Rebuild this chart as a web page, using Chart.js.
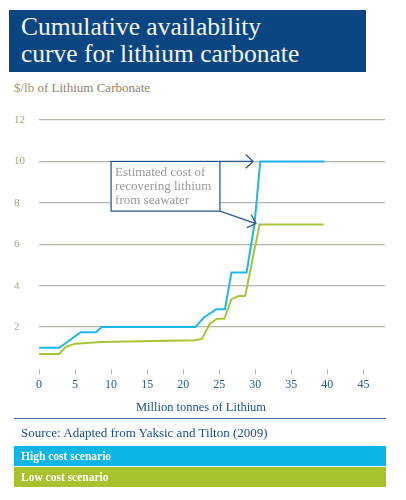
<!DOCTYPE html>
<html>
<head>
<meta charset="utf-8">
<script src="https://cdn.jsdelivr.net/npm/chart.js@4"></script>
<style>
  html, body { margin: 0; padding: 0; background: #fff; }
  body { width: 406px; height: 500px; position: relative; overflow: hidden; font-family: "Liberation Serif", serif; }
  #title { position: absolute; left: 9px; top: 10px; width: 357px; height: 62px; background: #0b4683; color: #f4f6f8; font-size: 25.5px; line-height: 27px; box-sizing: border-box; padding: 3px 0 0 12px; }
  #title div { white-space: nowrap; }
  #unit { position: absolute; left: 14px; top: 80px; font-size: 13px; color: #a49278; white-space: nowrap; }
  #unit b { font-weight: normal; color: #94826a; }
  #wrap { position: absolute; left: 0; top: 100px; width: 406px; height: 318px; }
  #xtitle { position: absolute; left: 0; width: 402px; top: 400px; text-align: center; font-size: 12.5px; color: #1f4e8c; white-space: nowrap; }
  #rule { position: absolute; left: 14px; top: 418px; width: 372px; height: 0; border-top: 1.5px solid #3d6a9f; }
  #source { position: absolute; left: 21px; top: 425px; font-size: 13px; color: #1f4e8c; white-space: nowrap; }
  .leg { position: absolute; left: 14px; width: 372px; height: 20px; color: #fff; font-weight: bold; font-size: 11.5px; line-height: 20px; box-sizing: border-box; padding-left: 7px; white-space: nowrap; }
  #legHigh { top: 446px; background: #0bb5e6; }
  #legLow { top: 467px; background: #a6c32e; }
</style>
</head>
<body>
<div id="title"><div>Cumulative availability</div><div>curve for lithium carbonate</div></div>
<div id="unit">$/lb <b>of Lithium Carbonate</b></div>
<div id="wrap"><canvas id="c"></canvas></div>
<div id="xtitle">Million tonnes of Lithium</div>
<div id="rule"></div>
<div id="source">Source: Adapted from Yaksic and Tilton (2009)</div>
<div class="leg" id="legHigh">High cost scenario</div>
<div class="leg" id="legLow">Low cost scenario</div>
<script>
// ---- data ----
const xTickLabels = [0, 5, 10, 15, 20, 25, 30, 35, 40, 45];
const yTickLabels = [2, 4, 6, 8, 10, 12];
const highX = [0, 2.8, 5.8, 7.9, 8.7, 21.7, 22.8, 24.6, 25.8, 26.7, 28.8, 29.9, 30.7, 39.6];
const highY = [1.0, 1.0, 1.75, 1.75, 2.0, 2.0, 2.44, 2.86, 2.86, 4.64, 4.64, 7.0, 10.0, 10.0];
const lowX = [0, 2.8, 3.7, 5.0, 8.7, 21.7, 22.6, 23.7, 24.7, 25.7, 26.7, 27.7, 28.6, 30.6, 39.5];
const lowY = [0.7, 0.7, 1.04, 1.2, 1.28, 1.36, 1.44, 2.15, 2.4, 2.4, 3.35, 3.5, 3.5, 6.95, 6.95];
const seriesNames = ["High cost scenario", "Low cost scenario"];
const noteLines = ["Estimated cost of", "recovering lithium", "from seawater"];
// annotation anchors in data units
const noteBox = { x0: 10.0, x1: 25.1, y0: 7.6, y1: 10.0 };
const arrowTips = [ { fromX: 25.1, fromY: 10.0, x: 29.7, y: 10.0 }, { fromX: 25.1, fromY: 7.6, x: 30.1, y: 7.0 } ];

const toPts = (xs, ys) => xs.map((x, i) => ({ x: x, y: ys[i] }));

const notePlugin = {
  id: 'note',
  afterDatasetsDraw(chart) {
    const { ctx, scales: { x, y } } = chart;
    const bx0 = x.getPixelForValue(noteBox.x0), bx1 = x.getPixelForValue(noteBox.x1);
    const by0 = y.getPixelForValue(noteBox.y1), by1 = y.getPixelForValue(noteBox.y0);
    ctx.save();
    ctx.fillStyle = '#fff';
    ctx.fillRect(bx0, by0, bx1 - bx0, by1 - by0);
    ctx.strokeStyle = '#1f4e8c';
    ctx.lineWidth = 1.2;
    ctx.strokeRect(bx0, by0, bx1 - bx0, by1 - by0);
    ctx.fillStyle = '#9a9a9a';
    ctx.font = '13px "Liberation Serif"';
    ctx.textBaseline = 'middle';
    noteLines.forEach((t, i) => ctx.fillText(t, bx0 + 4, by0 + 11 + i * 14));
    ctx.strokeStyle = '#2a5a92';
    ctx.lineWidth = 1.3;
    arrowTips.forEach(a => {
      const fx = x.getPixelForValue(a.fromX), fy = y.getPixelForValue(a.fromY);
      const tx = x.getPixelForValue(a.x), ty = y.getPixelForValue(a.y);
      const ang = Math.atan2(ty - fy, tx - fx);
      ctx.beginPath();
      ctx.moveTo(fx, fy); ctx.lineTo(tx, ty);
      const L = 10, h = 0.75;
      ctx.moveTo(tx - L * Math.cos(ang - h), ty - L * Math.sin(ang - h));
      ctx.lineTo(tx, ty);
      ctx.lineTo(tx - L * Math.cos(ang + h), ty - L * Math.sin(ang + h));
      ctx.stroke();
    });
    ctx.restore();
  }
};

new Chart(document.getElementById('c'), {
  type: 'scatter',
  data: {
    datasets: [
      { label: seriesNames[0], data: toPts(highX, highY), showLine: true, borderColor: '#1fb6e9', borderWidth: 2, pointRadius: 0, tension: 0 },
      { label: seriesNames[1], data: toPts(lowX, lowY), showLine: true, borderColor: '#a8c53a', borderWidth: 2, pointRadius: 0, tension: 0 }
    ]
  },
  options: {
    responsive: true,
    maintainAspectRatio: false,
    animation: false,
    layout: { padding: { left: 14, right: 21, top: 20, bottom: 0 } },
    plugins: { legend: { display: false }, tooltip: { enabled: false } },
    scales: {
      x: {
        type: 'linear', min: 0, max: 48,
        afterBuildTicks: s => { s.ticks = xTickLabels.map(v => ({ value: v })); },
        afterFit: s => { s.height = 49.5; },
        border: { display: false },
        grid: { drawOnChartArea: false, drawTicks: true, tickLength: 6, color: '#b8b3ab', lineWidth: 1 },
        ticks: { color: '#2a5a96', font: { family: 'Liberation Serif', size: 12 }, padding: 3, maxRotation: 0 }
      },
      y: {
        type: 'linear', min: 0, max: 12,
        afterBuildTicks: s => { s.ticks = yTickLabels.map(v => ({ value: v })); },
        afterFit: s => { s.width = 25; },
        border: { display: false },
        grid: { drawTicks: false, color: '#b8b3ab', lineWidth: 1.3 },
        ticks: { color: '#a89c88', font: { family: 'Liberation Serif', size: 11 }, crossAlign: 'far', padding: 0 }
      }
    }
  },
  plugins: [notePlugin]
});
</script>
</body>
</html>
